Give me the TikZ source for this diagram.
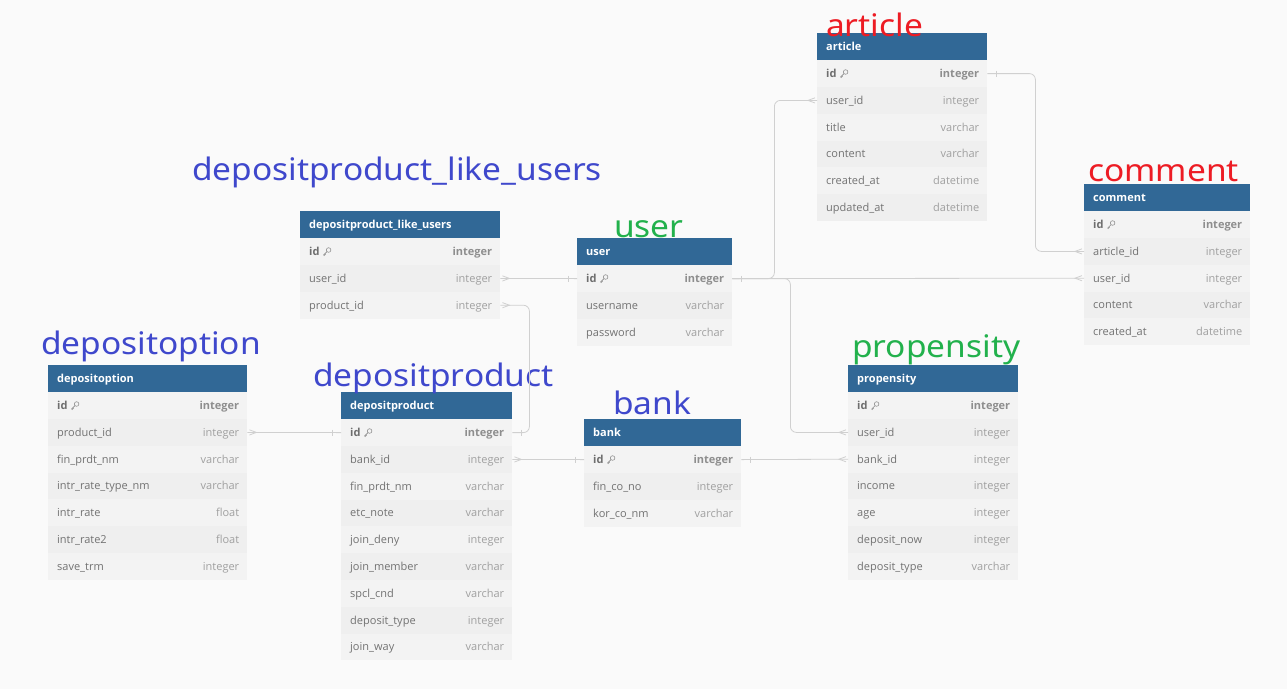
\documentclass[tikz,border=0pt]{standalone}
\usepackage{fontspec}
\setmainfont{Open Sans}
\newfontfamily\labelfont[FakeStretch=1.08]{Noto Sans}
\usetikzlibrary{calc}
\definecolor{bg}{HTML}{FAFAFA}
\definecolor{hdr}{HTML}{316896}
\definecolor{rowa}{HTML}{F3F3F3}
\definecolor{rowb}{HTML}{EFEFEF}
\definecolor{fieldc}{HTML}{727272}
\definecolor{typec}{HTML}{A0A0A0}
\definecolor{idc}{HTML}{6E6E6E}
\definecolor{idtc}{HTML}{8E8E8E}
\definecolor{connc}{HTML}{D0D0D0}
\definecolor{keyc}{HTML}{8A8A8A}
\definecolor{lblblue}{HTML}{3F48CC}
\definecolor{lblred}{HTML}{ED1C24}
\definecolor{lblgreen}{HTML}{22B14C}
\catcode`\_=12
\tikzset{
  hdrbox/.style={fill=hdr, minimum height=27pt, inner sep=0pt, draw=none},
  rowbox/.style={minimum height=26.8pt, inner sep=0pt, draw=none},
  txt/.style={inner sep=0pt, font=\fontsize{11}{13}\selectfont},
  hdrtext/.style={txt, anchor=base west, text=white, font=\fontsize{11}{13}\selectfont\bfseries},
  fieldtext/.style={txt, anchor=base west, text=fieldc},
  typetext/.style={txt, anchor=base east, text=typec},
  idtext/.style={txt, anchor=base west, text=idc, font=\fontsize{11}{13}\selectfont\bfseries},
  idtypetext/.style={txt, anchor=base east, text=idtc, font=\fontsize{11}{13}\selectfont\bfseries},
  conn/.style={draw=connc, line width=0.8pt, rounded corners=6pt},
  mk/.style={draw=connc, line width=0.8pt},
  lbl/.style={inner sep=0pt, anchor=base west, font=\labelfont\fontsize{31}{36}\selectfont},
  keyicon/.pic={
    \draw[keyc, line width=0.55pt] (5.4,-5.4) circle (2.3);
    \draw[keyc, line width=0.55pt] (3.8,-3.8) -- (0.4,-0.4) -- (1.4,0.4);
    \draw[keyc, line width=0.55pt] (1.4,-1.4) -- (2.4,-0.6);
  }
}
\newcommand\erdtable[5]{%
  \node[hdrbox, minimum width=#4pt, anchor=north west] (#1) at (#2,#3) {};
  \node[hdrtext] at ($(#1.west)+(9,3.8)$) {#1};
  \foreach \f/\t [count=\i from 0] in {id/integer,#5} {
    \pgfmathsetmacro\yy{#3+27+\i*26.8}
    \ifodd\i \def\rc{rowb}\else\def\rc{rowa}\fi
    \node[rowbox, fill=\rc, minimum width=#4pt, anchor=north west] (#1-\f) at (#2,\yy) {};
    \ifnum\i=0
      \node[idtext] (#1-\f-n) at ($(#1-\f.west)+(9,3.8)$) {id};
      \pic at ($(#1-\f-n.base east)+(3.5,0)$) {keyicon};
      \node[idtypetext] at ($(#1-\f.east)+(-8,3.8)$) {\t};
    \else
      \node[fieldtext] at ($(#1-\f.west)+(9,3.8)$) {\f};
      \node[typetext] at ($(#1-\f.east)+(-8,3.8)$) {\t};
    \fi
  }
}
\newcommand\crowR[1]{\draw[mk] ($(#1)+(2,-2.6)$) -- ($(#1)+(9,0)$) -- ($(#1)+(2,2.6)$);}
\newcommand\crowL[1]{\draw[mk] ($(#1)+(-2,-2.6)$) -- ($(#1)+(-9,0)$) -- ($(#1)+(-2,2.6)$);}
\newcommand\barR[1]{\draw[mk] ($(#1)+(9,-3)$) -- ($(#1)+(9,3)$);}
\newcommand\barL[1]{\draw[mk] ($(#1)+(-9,-3)$) -- ($(#1)+(-9,3)$);}
\begin{document}
\begin{tikzpicture}[x=1pt, y=-1pt]
\fill[bg] (0,0) rectangle (1287,689);
\useasboundingbox (0,0) rectangle (1287,689);

% tables
\erdtable{article}{817}{33}{170}{user_id/integer,title/varchar,content/varchar,created_at/datetime,updated_at/datetime}
\erdtable{comment}{1084}{184}{166}{article_id/integer,user_id/integer,content/varchar,created_at/datetime}
\erdtable{user}{577}{238}{155}{username/varchar,password/varchar}
\erdtable{depositproduct_like_users}{300}{211}{200}{user_id/integer,product_id/integer}
\erdtable{depositoption}{48}{365}{199}{product_id/integer,fin_prdt_nm/varchar,intr_rate_type_nm/varchar,intr_rate/float,intr_rate2/float,save_trm/integer}
\erdtable{depositproduct}{341}{392}{171}{bank_id/integer,fin_prdt_nm/varchar,etc_note/varchar,join_deny/integer,join_member/varchar,spcl_cnd/varchar,deposit_type/integer,join_way/varchar}
\erdtable{bank}{584}{419}{157}{fin_co_no/integer,kor_co_nm/varchar}
\erdtable{propensity}{848}{365}{170}{user_id/integer,bank_id/integer,income/integer,age/integer,deposit_now/integer,deposit_type/varchar}

% big labels
\node[lbl, text=lblred] (lab-article) at (826,36) {article};
\node[lbl, text=lblred] (lab-comment) at (1088,181) {comment};
\node[lbl, text=lblgreen] (lab-user) at (614,237) {user};
\node[lbl, text=lblblue] (lab-dlu) at (192,180) {depositproduct_like_users};
\node[lbl, text=lblblue] (lab-dopt) at (41,354) {depositoption};
\node[lbl, text=lblblue] (lab-dprod) at (313,386) {depositproduct};
\node[lbl, text=lblblue] (lab-bank) at (613,414) {bank};
\node[lbl, text=lblgreen] (lab-prop) at (852,357) {propensity};

% connectors
\draw[conn] (depositproduct_like_users-user_id.east) -- (user-id.west);
\crowR{depositproduct_like_users-user_id.east}
\barL{user-id.west}

\draw[conn] (depositproduct_like_users-product_id.east) -- ++(29,0) |- (depositproduct-id.east);
\crowR{depositproduct_like_users-product_id.east}
\barR{depositproduct-id.east}

\draw[conn] (depositoption-product_id.east) -- (depositproduct-id.west);
\crowR{depositoption-product_id.east}
\barL{depositproduct-id.west}

\draw[conn] (depositproduct-bank_id.east) -- (bank-id.west);
\crowR{depositproduct-bank_id.east}
\barL{bank-id.west}

\draw[conn] (bank-id.east) -- (propensity-bank_id.west);
\barR{bank-id.east}
\crowL{propensity-bank_id.west}

\draw[conn] (user-id.east) -- ++(42,0) |- (article-user_id.west);
\draw[conn] (user-id.east) -- ++(58,0) |- (propensity-user_id.west);
\draw[conn] (user-id.east) -- (comment-user_id.west);
\barR{user-id.east}
\crowL{article-user_id.west}
\crowL{propensity-user_id.west}
\crowL{comment-user_id.west}

\draw[conn] (article-id.east) -- ++(48,0) |- (comment-article_id.west);
\barR{article-id.east}
\crowL{comment-article_id.west}
\end{tikzpicture}
\end{document}
